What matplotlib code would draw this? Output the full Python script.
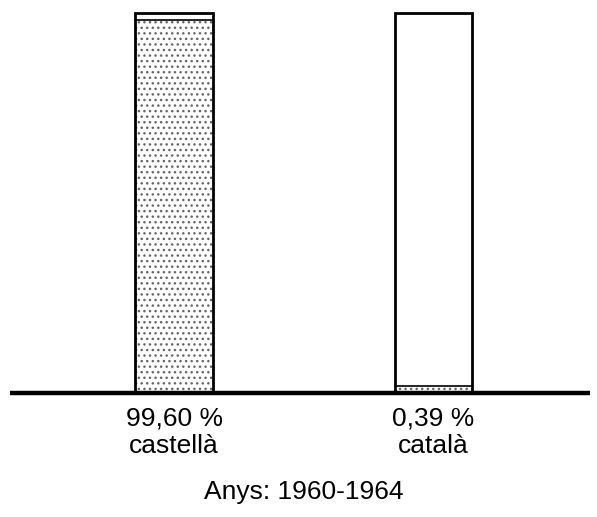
import matplotlib
matplotlib.use("Agg")
from matplotlib import pyplot as plt

# dades
llengues = ["castellà", "català"]
percentatges = [99.60, 0.39]
etiquetes = ["99,60 %", "0,39 %"]
periode = "Anys: 1960-1964"

# la part petita es dibuixa amb un gruix mínim perquè es vegi (com a l'original)
gruix_minim = 1.8

plt.rcParams['font.family'] = ['Liberation Sans', 'DejaVu Sans']
plt.rcParams['hatch.color'] = '#666666'
plt.rcParams['hatch.linewidth'] = 1.0

fig = plt.figure(figsize=(5.97, 5.17), dpi=100)
ax = fig.add_axes([0, 0, 1, 1])

posicions = [0, 1]
amplada = 0.297

for pos, nom, pct in zip(posicions, llengues, percentatges):
    if pct > 50:
        punts = 100 - gruix_minim
    else:
        punts = gruix_minim
    # part amb punts (la llengua) i part blanca (la resta)
    ax.bar(pos, punts, width=amplada, bottom=0, color='white', hatch='...',
           edgecolor='#666666', linewidth=0)
    ax.bar(pos, 100 - punts, width=amplada, bottom=punts, color='white', linewidth=0)
    ax.plot([pos - amplada / 2, pos + amplada / 2], [punts, punts], color='black', lw=1.2)
    ax.bar(pos, 100, width=amplada, bottom=0, fill=False, edgecolor='black', linewidth=2)

# línia de base gruixuda
ax.plot([-0.632, 1.603], [0, 0], color='black', lw=3.2, solid_capstyle='butt', zorder=5)

for pos, et, nom in zip(posicions, etiquetes, llengues):
    ax.text(pos, -6.6, et, ha='center', va='center', fontsize=19)
    ax.text(pos, -14.0, nom, ha='center', va='center', fontsize=19)

ax.text(0.5, -26.1, periode, ha='center', va='center', fontsize=19)

ax.set_xlim(-0.6705, 1.630)
ax.set_ylim(-32.6, 103.4)
ax.axis('off')

plt.savefig("out.png", dpi=100)
